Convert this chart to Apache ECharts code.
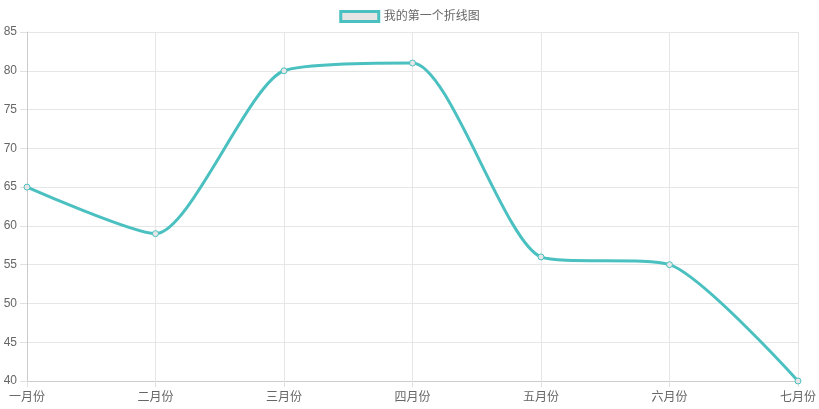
<!DOCTYPE html>
<html><head><meta charset="utf-8">
<script src="https://cdn.jsdelivr.net/npm/echarts@6/dist/echarts.min.js"></script>
<style>html,body{margin:0;padding:0;background:#fff}#c{width:819px;height:409px}</style>
</head><body><div id="c"></div>
<script>
const categories = ['一月份','二月份','三月份','四月份','五月份','六月份','七月份'];
const values = [65, 59, 80, 81, 56, 55, 40];
const seriesName = '我的第一个折线图';
const chart = echarts.init(document.getElementById('c'));
const font = '"Liberation Sans", Arial, "Noto Sans CJK SC", sans-serif';
chart.setOption({
  animation: false,
  textStyle: {fontFamily: font},
  legend: {
    top: 5, left: 'center', itemWidth: 38, itemHeight: 10, itemGap: 8,
    icon: 'rect',
    textStyle: {color: '#666', fontSize: 12, fontFamily: font},
    itemStyle: {color: '#e6e6e6', borderColor: '#4bc0c0', borderWidth: 3},
    lineStyle: {width: 0}
  },
  grid: {left: 27, right: 21, top: 32, bottom: 28, containLabel: false},
  xAxis: {
    type: 'category', data: categories, boundaryGap: false,
    axisLine: {show: true, lineStyle: {color: '#cccccc'}},
    axisTick: {show: true, alignWithLabel: true, length: 6, lineStyle: {color: '#e0e0e0'}},
    splitLine: {show: true, lineStyle: {color: '#e6e6e6'}},
    axisLabel: {color: '#666', fontSize: 12, margin: 11, fontFamily: font}
  },
  yAxis: {
    type: 'value', min: 40, max: 85, interval: 5,
    axisLine: {show: true, lineStyle: {color: '#cccccc'}},
    axisTick: {show: true, length: 7, lineStyle: {color: '#e0e0e0'}},
    splitLine: {show: true, lineStyle: {color: '#e6e6e6'}},
    axisLabel: {color: '#666', fontSize: 12, margin: 10, fontFamily: font}
  },
  series: [{
    name: seriesName, type: 'line', data: values, smooth: 0.22,
    symbol: 'circle', symbolSize: 6,
    itemStyle: {color: '#e6e6e6', borderColor: '#4bc0c0', borderWidth: 1},
    lineStyle: {color: '#4bc0c0', width: 3}
  }]
});
</script></body></html>
